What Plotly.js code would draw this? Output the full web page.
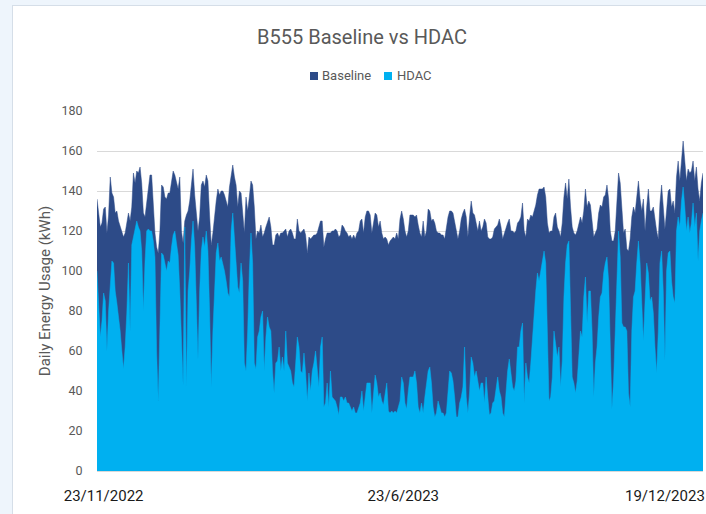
<!DOCTYPE html>
<html>
<head>
<meta charset="utf-8">
<script src="https://cdn.plot.ly/plotly-3.0.1.min.js"></script>
<style>
  html, body { margin: 0; padding: 0; width: 706px; height: 514px; overflow: hidden; background: #EEF5FC; }
  #card { position: absolute; left: 12px; top: 5px; width: 720px; height: 530px; background: #FFFFFF; border: 1px solid #D5DEE8; box-sizing: border-box; }
  #chart { position: absolute; left: 0; top: 0; width: 706px; height: 514px; }
</style>
</head>
<body>
<div id="card"></div>
<div id="chart"></div>
<script>
// Daily energy usage (kWh), left to right
const baseline = [
  136,127,122,124,131,132,119,128,147,139, 137,129,130,125,122,119,117,119,124,129,
  125,132,149,144,150,149,152,144,129,127, 134,142,148,148,130,119,112,109,120,143,
  142,137,136,139,
  139,144,150,148,145,141,147,120,114,125, 128,130,135,145,151,138,128,120,127,143,
  145,142,148,145,128,113,119,128,135,141, 138,140,140,138,135,132,142,149,153,147,
  143,132,140,139,130,119,
  137,130,137,145,143,132,116,120,119,123, 117,119,122,125,127,122,113,113,118,119,
  117,119,119,120,121,117,120,121,119,116, 116,126,120,119,120,121,118,109,117,116,
  117,118,118,119,122,125,
  125,112,116,119,119,119,120,120,121,120, 117,118,123,122,120,119,117,118,116,118,
  116,119,120,125,126,119,127,130,130,128, 119,125,129,128,122,125,119,116,117,116,
  113,115,116,117,116,119,
  116,126,130,126,120,117,120,128,128,128, 127,128,123,119,117,125,117,120,131,130,
  125,126,124,120,119,119,118,118,116,122, 127,130,130,129,125,120,116,120,126,129,
  131,127,117,127,135,129,
  128,124,120,125,120,122,126,124,117,116, 116,117,121,122,123,126,122,116,119,121,
  124,126,120,120,119,120,124,125,127,134, 120,117,126,125,128,127,130,133,138,141,
  141,141,142,137,124,119,
  120,120,127,129,122,120,117,124,137,144, 136,146,132,122,119,118,120,124,127,124,
  130,141,132,135,133,125,117,119,121,129, 133,132,137,138,143,136,120,115,115,120,
  134,149,144,129,119,121,
  111,110,116,127,132,129,137,145,136,130, 136,120,132,141,130,130,132,125,120,116,
  134,143,132,121,130,140,141,132,135,129, 147,155,145,154,165,155,145,151,149,150,
  155,145,152,141,135,144,149
];
const hdac = [
  100,80,67,75,89,85,60,80,95,105, 104,90,84,78,70,60,51,62,79,104,
  70,113,117,122,125,122,120,110,80,105, 120,121,120,120,115,107,60,35,70,109,
  108,104,100,105,
  104,112,118,120,114,108,90,70,43,122, 42,90,100,115,125,112,82,56,90,110,
  117,112,120,110,80,42,70,95,109,114, 105,107,104,100,95,89,87,120,129,117,
  107,92,89,104,95,54,
  50,70,100,119,104,54,51,67,70,77, 80,50,67,77,72,70,50,39,54,55,
  62,50,57,50,70,54,52,50,44,42, 54,67,62,50,49,59,49,35,49,40,
  50,54,60,50,42,62,
  67,32,34,44,32,50,37,36,35,32, 28,37,37,35,37,34,34,32,30,32,
  29,29,32,34,40,30,37,44,44,44, 29,40,48,44,37,39,35,33,39,44,
  30,29,30,29,30,29,
  32,35,47,44,34,31,40,47,47,47, 50,44,32,29,34,29,37,44,50,52,
  44,32,27,29,35,32,29,29,27,29, 40,50,49,45,37,27,27,34,37,42,
  62,37,29,39,57,54,
  47,50,45,40,44,44,34,47,37,28, 29,34,35,42,47,40,37,29,27,39,
  50,56,50,42,40,45,62,62,70,74, 34,54,47,44,54,67,79,90,99,95,
  100,105,110,104,70,35,
  37,47,70,62,57,62,42,55,87,104, 113,115,87,47,44,39,45,57,70,67,
  87,97,74,90,90,70,37,54,62,77, 87,89,99,104,107,95,54,31,45,70,
  104,120,107,74,72,72,
  70,39,32,70,87,90,104,115,104,87, 65,85,104,99,85,87,79,62,49,70,
  104,110,90,55,100,109,110,95,87,84, 120,127,122,135,142,132,120,127,119,124,
  134,122,129,105,120,125,129
];
const seriesNames = ['Baseline', 'HDAC'];
const xTickLabels = ['23/11/2022', '23/6/2023', '19/12/2023'];
const titleText = 'B555 Baseline vs HDAC';
const yTitleText = 'Daily Energy Usage (kWh)';

const colors = { baseline: '#2D4B88', hdac: '#00B0F0' };
const dayIndex = baseline.map((_, i) => i);
const nPts = baseline.length;
const tickPos = [4, Math.round(nPts * 0.505), Math.round(nPts * 0.935)];

const fontFam = 'Roboto, "Open Sans", sans-serif';

const traces = [
  { type: 'scatter', mode: 'lines', x: dayIndex, y: baseline, name: seriesNames[0],
    fill: 'tozeroy', fillcolor: colors.baseline, line: { color: colors.baseline, width: 0.5 },
    hoverinfo: 'skip', showlegend: false },
  { type: 'scatter', mode: 'lines', x: dayIndex, y: hdac, name: seriesNames[1],
    fill: 'tozeroy', fillcolor: colors.hdac, line: { color: colors.hdac, width: 0.5 },
    hoverinfo: 'skip', showlegend: false }
];

// legend drawn as small squares + labels (placed in paper coords)
const L = 97, W = 606, T = 111, H = 360;
const px = v => (v - L) / W;
const py = v => (T + H - v) / H;
const legendItems = [
  { sq: 310, txt: 321, color: colors.baseline, label: seriesNames[0] },
  { sq: 384, txt: 396, color: colors.hdac, label: seriesNames[1] }
];
const shapes = legendItems.map(it => ({
  type: 'rect', xref: 'paper', yref: 'paper',
  x0: px(it.sq), x1: px(it.sq + 8), y0: py(80), y1: py(72),
  fillcolor: it.color, line: { width: 0 }
}));
const annotations = legendItems.map(it => ({
  xref: 'paper', yref: 'paper', x: px(it.txt), y: py(76), xanchor: 'left', yanchor: 'middle',
  text: it.label, showarrow: false, borderpad: 0,
  font: { family: fontFam, size: 13, color: '#595959' }
}));

const layout = {
  width: 706, height: 514,
  margin: { l: L, r: 706 - L - W, t: T, b: 514 - T - H, pad: 0 },
  paper_bgcolor: 'rgba(0,0,0,0)', plot_bgcolor: 'rgba(0,0,0,0)',
  showlegend: false,
  title: { text: titleText, xref: 'container', yref: 'container', x: 362 / 706, y: 1 - 37 / 514,
           xanchor: 'center', yanchor: 'middle',
           font: { family: fontFam, size: 20, color: '#595959' } },
  xaxis: { range: [0, nPts - 1], showgrid: false, zeroline: false,
           showline: true, linecolor: '#D9D9D9', linewidth: 1,
           tickmode: 'array', tickvals: tickPos, ticktext: xTickLabels,
           ticks: 'outside', ticklen: 11, tickcolor: 'rgba(0,0,0,0)',
           tickfont: { family: fontFam, size: 15, color: '#1A1A1A' }, fixedrange: true },
  yaxis: { range: [0, 180], dtick: 20, tick0: 0, showgrid: true, gridcolor: '#D9D9D9', gridwidth: 1,
           zeroline: false, showline: false,
           ticks: 'outside', ticklen: 11, tickcolor: 'rgba(0,0,0,0)',
           tickfont: { family: fontFam, size: 12.5, color: '#595959' },
           title: { text: yTitleText, standoff: 7, font: { family: fontFam, size: 15, color: '#595959' } },
           automargin: false, fixedrange: true },
  shapes: shapes,
  annotations: annotations
};

Plotly.newPlot('chart', traces, layout, { displayModeBar: false, staticPlot: true });
</script>
</body>
</html>
